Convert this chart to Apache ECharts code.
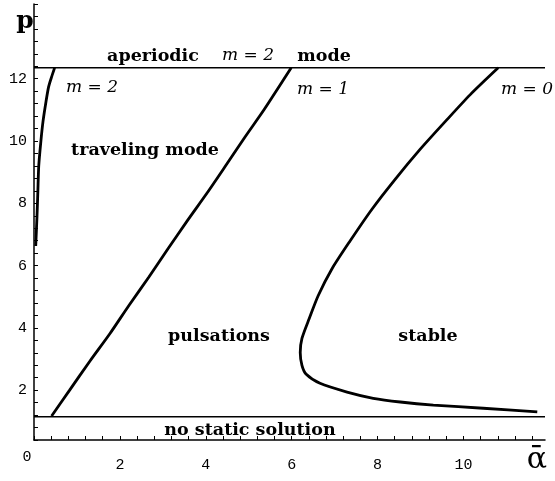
<!DOCTYPE html>
<html>
<head>
<meta charset="utf-8">
<script src="https://cdn.jsdelivr.net/npm/echarts@6/dist/echarts.min.js"></script>
<style>
  html, body { margin: 0; padding: 0; background: #fff; }
  #chart { width: 555px; height: 481px; }
</style>
</head>
<body>
<div id="chart"></div>
<script>
// boundary curves, [alpha, p]
var m2Curve = [[0.48, 12.35], [0.41, 12.06], [0.34, 11.74], [0.28, 11.27], [0.21, 10.63],
    [0.16, 9.99], [0.11, 9.19], [0.09, 8.39], [0.07, 7.59], [0.04, 6.63]];
var m1Curve = [[0.41, 1.17], [0.83, 2.0], [1.30, 2.93], [1.77, 3.82], [2.21, 4.72],
    [2.68, 5.64], [3.12, 6.54], [3.58, 7.46], [4.03, 8.33], [4.47, 9.22],
    [4.91, 10.12], [5.36, 11.01], [5.99, 12.35]];
var m0Curve = [[10.81, 12.35], [10.16, 11.49], [9.58, 10.63], [8.99, 9.73], [8.41, 8.77],
    [7.87, 7.81], [7.36, 6.79], [6.94, 5.90], [6.62, 5.04], [6.41, 4.30],
    [6.24, 3.66], [6.20, 3.21], [6.24, 2.80], [6.34, 2.51], [6.66, 2.22],
    [7.29, 1.94], [7.90, 1.74], [8.53, 1.62], [9.30, 1.52], [10.46, 1.42], [11.72, 1.30]];
var aperiodicLine = [[0, 12.35], [11.9, 12.35]];
var noStaticLine = [[0, 1.15], [11.9, 1.15]];
var xLabels = [2, 4, 6, 8, 10];
var yLabels = [2, 4, 6, 8, 10, 12];

var serif = '"DejaVu Serif", serif';
var mono = '"Liberation Mono", monospace';

function isIn(list, v) {
    for (var i = 0; i < list.length; i++) {
        if (Math.abs(list[i] - v) < 1e-6) return true;
    }
    return false;
}

function curve(data, w) {
    return {
        type: 'line', data: data, showSymbol: false, smooth: 0.25,
        lineStyle: { color: '#000', width: w }, silent: true
    };
}

function txt(x, y, s, opts) {
    return {
        type: 'text', x: x, y: y, silent: true,
        style: {
            text: s, fill: '#000', align: 'center', verticalAlign: 'middle',
            font: opts
        }
    };
}

var chart = echarts.init(document.getElementById('chart'));
chart.setOption({
    animation: false,
    grid: { left: 34, right: 10, top: 4, bottom: 41 },
    xAxis: {
        type: 'value', min: 0, max: 11.9, interval: 0.4,
        axisLine: { lineStyle: { color: '#000', width: 1.5 } },
        axisTick: { inside: true, length: 4, lineStyle: { color: '#000' } },
        splitLine: { show: false },
        axisLabel: {
            color: '#000', fontFamily: mono, fontSize: 15, margin: 18,
            showMaxLabel: false,
            formatter: function (v) { return isIn(xLabels, v) ? String(Math.round(v)) : ''; }
        }
    },
    yAxis: {
        type: 'value', min: 0.4, max: 14.4, interval: 0.4,
        axisLine: { lineStyle: { color: '#000', width: 1.5 } },
        axisTick: { inside: true, length: 4, lineStyle: { color: '#000' } },
        splitLine: { show: false },
        axisLabel: {
            color: '#000', fontFamily: mono, fontSize: 15, margin: 7,
            padding: [10, 0, 0, 0],
            formatter: function (v) { return isIn(yLabels, v) ? String(Math.round(v)) : ''; }
        }
    },
    series: [
        curve(aperiodicLine, 1.5),
        curve(noStaticLine, 1.5),
        curve(m2Curve, 2.8),
        curve(m1Curve, 2.8),
        curve(m0Curve, 2.8)
    ],
    graphic: [
        txt(25, 21, 'p', 'bold 25px ' + serif),
        txt(27, 457, '0', '15px ' + mono),
        txt(537, 460, 'ᾱ', '30px ' + serif),
        txt(153, 56, 'aperiodic', 'bold 17.5px ' + serif),
        txt(248, 56, 'm = 2', 'italic 17px ' + serif),
        txt(324, 56, 'mode', 'bold 17.5px ' + serif),
        txt(92, 88, 'm = 2', 'italic 17px ' + serif),
        txt(323, 90, 'm = 1', 'italic 17px ' + serif),
        txt(527, 90, 'm = 0', 'italic 17px ' + serif),
        txt(145, 150, 'traveling mode', 'bold 17.5px ' + serif),
        txt(219, 336, 'pulsations', 'bold 17.5px ' + serif),
        txt(428, 336, 'stable', 'bold 17.5px ' + serif),
        txt(250, 430, 'no static solution', 'bold 17.5px ' + serif)
    ]
});
</script>
</body>
</html>
